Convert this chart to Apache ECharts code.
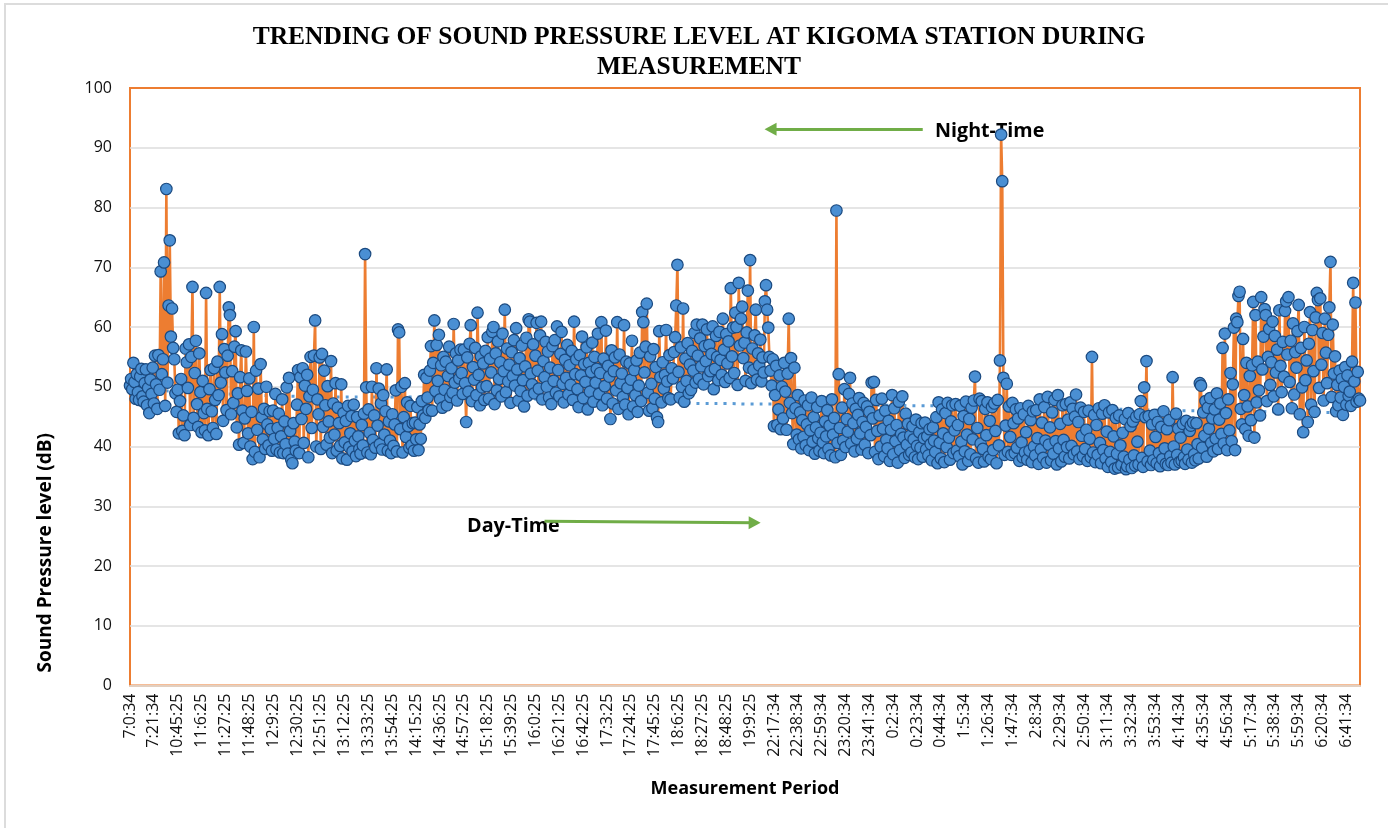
<!DOCTYPE html>
<html><head><meta charset="utf-8"><style>html,body{margin:0;padding:0;background:#fff}#c{width:1388px;height:828px}</style>
<script src="https://cdn.jsdelivr.net/npm/echarts@6/dist/echarts.min.js"></script></head><body><div id="c"></div><script>
const tickLabels=["7:0:34","7:21:34","10:45:25","11:6:25","11:27:25","11:48:25","12:9:25","12:30:25","12:51:25","13:12:25","13:33:25","13:54:25","14:15:25","14:36:25","14:57:25","15:18:25","15:39:25","16:0:25","16:21:25","16:42:25","17:3:25","17:24:25","17:45:25","18:6:25","18:27:25","18:48:25","19:9:25","22:17:34","22:38:34","22:59:34","23:20:34","23:41:34","0:2:34","0:23:34","0:44:34","1:5:34","1:26:34","1:47:34","2:8:34","2:29:34","2:50:34","3:11:34","3:32:34","3:53:34","4:14:34","4:35:34","4:56:34","5:17:34","5:38:34","5:59:34","6:20:34","6:41:34"];
const morning=[
50.2,51.3,49.6,54,50.8,48,52.1,49.1,47.8,51.7,53,48.4,47.5,50.6,52.9,46.9,49.8,45.6,51.2,48.8,53.2,
47.2,55.2,50.4,46.3,55.3,49.5,69.3,52.1,54.6,70.8,46.8,83.1,50.7,63.6,74.5,58.4,63.1,56.5,54.6,48.9,45.8,
49.5,42.2,47.6,51.3,42.6,45.2,41.9,56.4,54.1,49.8,57.1,43.6,55,66.7,44.8,52.3,57.7,47.1,43.3,55.6,49.1,
42.4,51,45.6,42.7,65.7,46.3,41.9,49.6,52.8,45.9,43.1,53.1,47.8,42.1,54.2,48.6,66.7,50.7,58.8,44.3,
56.3,52.4,46.1,55.2,63.3,62,45.4,52.6,47.3,56.7,59.3,43.2,48.9,40.3,51.6,56.1,46,40.6,44.7,55.9,49.3,
42.2,51.4,40,45.8,37.9,60,39.1,52.7,42.8,49.7,38.2,53.8,44.9,41.2,46.3,39.6,50,43.7,40.2,45.9,42.9,
39.3,46,41.3,48.8,39.5,43.1,45.5,39,41.7,47.9,38.9,44.2,40.4,49.9,38.8,51.5,42.6,37.8,37.2,43.9,40.8,
39.3,47,52.8,38.9,51.6,44.6,53.1,40.6,50.2,46.3,52,38.2,48.4,55,43.1,49.5,55.2,61.1,40,47.9,45.4];
const midday=[
54.9,39.6,55.5,43.3,52.7,46.9,40.3,50.1,44.2,41.5,54.3,38.9,47.2,42,50.6,39.3,46.5,43.9,40.1,50.4,38,
45.6,40.7,44.3,37.8,46.8,39.9,42.2,45.1,39.2,47,41,38.4,44.9,41.7,39.6,38.8,43.6,40.2,45.5,72.2,
49.9,39,46.2,42.3,38.7,50,41.1,45.2,39.8,53.1,43.5,49.7,40.4,47.2,39.5,48.6,42,45.9,52.9,39.3,44.2,
41,38.9,45.4,40.1,43.7,49.4,39.2,59.6,59.1,42.9,50,39,44.9,50.6,41.6,47.4,43.4,39.8,46.8,40.2,43.9,
39.3,44,41.2,46.6,39.4,43.7,41.3,47.6,45.2,52,44.8,51.5,48.2,46.1,52.7,56.8,46,54,61.1,49.3,57,
51,58.7,47.9,53.6,46.5,55,49.5,54.2,46.9,51.8,56.7,48.3,53.1,49,60.5,50.7,55.6,47.7,54.4,51.4,56.2,
52.3,48.8,56.2,50.6,44.1,54.9,49.2,57.2,60.3,47.6,53.3,51.2,56.5,48.6,62.4,52,46.9,55.1,49.9,53.9,47.8,
56,50.1,58.3,48,54.7,52.4,59.2,60,47.1,55.6,49.4,57.6,51.3,54.1,48.4,58.9,52.6,62.9,49.1,56.4,50.9,
53.7,47.3,55.8,51.8,57.8,50.2,59.8,52.9,47.7,54.8,49.3,56.9,51.1,46.7,53.4,58.2,48.5,61.3,60.9,52.2];
const afternoon=[
50.4,57.1,48.9,55.2,60.7,52.7,49.7,58.6,60.9,47.9,54.3,51.6,57.5,50,55.9,48.2,53.2,47.1,56.8,51,57.8,
49,60.1,52.8,48.4,55.5,59.2,50.5,47.4,54.5,51.5,57,48.7,53.6,50.3,56,47.8,60.9,52.1,54.6,49.6,46.6,
55.3,51.9,58.4,48.1,53.8,50.8,56.6,46.2,54,49.2,52.5,57.4,47.5,55,50.7,53,58.9,48.8,52.3,60.8,46.9,
54.7,50.1,59.4,48,53.5,51.7,44.6,56.1,47.2,52.6,54.9,49.4,60.8,46.3,55.4,50.6,52.2,48.3,60.3,47,54.2,
49.8,45.4,53.9,51.2,57.7,46.7,52.8,48.6,54.4,45.8,50.2,55.7,47.6,62.5,60.8,52.4,56.7,63.9,49,46,55.1,
50.5,46.4,56.3,48,53.3,44.9,44.1,59.3,51.6,47.4,54.1,49.7,52,59.5,50.9,48.1,55.3,47.9,53.1,51.4,
55.8,58.3,63.6,70.4,52.5,48.2,56.6,50,63.1,47.5,54.7,51,57.3,48.9,53.7,49.5,56,52.7,59,50.7,60.4,
55.2,51.3,58.1,53.4,60.4,50.4,56.8,54.3,59.6,51.8,57,52.6,55.5,60.1,49.6,53,58.5,55,51.1,59.2,54.5,
52,61.4,56.2,50.8,58.8,53.9,57.6,51.5,66.5,55.1,59.9,52.3,62.4,60,50.3,67.4,56.9,61.4,63.4,54.8,57.4,
51,59.1,66.1,53.2,71.2,50.6,56.4,52.8,58.6,62.9,51.2,55.6,53.6,57.9,50.9,54.9,52.4,64.3,67,62.9,59.9];
const evening=[
55,52.7,50.2,54.6,43.4,48.6,53.5,43.6,46.2,51.9,42.9,50,44.7,54,49.2,42.8,52.2,61.4,47.3,54.8,45.6,
40.4,53.2,46.4,42,48.6,41.2,45.7,39.7,44.4,41.6,47.7,40.2,43.7,46.9,39.4,42.7,48.2,40.8,44.9,38.8,43.2,
46.6,41.4,39.3,42.3,47.6,40.7,38.9,44.2,41.7,46.1,39.6,43.5,38.5,47.9,42,44.8,38.2,79.5,40.6,52.1,
43.1,38.6,46.5,41,49.6,39.9,44.6,42.5,48.8,51.5,40.5,47.2,43.9,39.2,46.3,41.3,45.3,48.1,42.2,39.5,44.1,
47.3,40.3,43.3,46.7,38.9,45.8,41.9,50.7,44.7,50.8,39.1,47.8,42.6,37.9,45.2,40,48,43,38.4,46,41.1,
39.7,44.3,37.6,42.8,48.6,38.7,46.4,40.9,43.6,37.3,47.5,39.4,42.1,48.4,41.5,38.1,45.5,40.3,43.8,38.6,41.8,
39,43.4,41.2,38.2,44.5,40.1,37.9,42.4,39.8,43.9,38.3,41.4,44,39.5,41.7,38.5,42.9,40.4,37.7,43.2,41,
39.1,44.9,37.2,47.4,40.6,38,46.2,42.2,37.4,45.6,39.9,47.3,41.5,37.8,44.2,46.9,38.9,42.7,47.1,39.3,43.6];
const night=[
38.4,46.8,40.8,37,45.1,39.2,47.5,42,37.6,44.6,38.7,46.5,41.2,47.7,51.7,38,43.1,37.3,48,40.5,
47.6,39.6,37.5,46.3,41.9,47.4,38.3,44.3,37.9,46.6,39.4,47.2,42.6,37.2,47.8,40.2,54.4,92.2,84.4,51.5,38.6,
43.5,50.5,39.1,46.7,41.6,38.6,47.3,43.9,38.9,46.2,39.8,44.7,37.6,46.4,40.7,38.2,45.4,39,42.4,37.8,46.8,
39.3,44.4,37.4,45.9,40,38.5,46.1,41.4,37.1,47.9,39.5,44,38.1,46.6,41,37.3,48.3,40.3,43.2,37.7,45.7,
38.8,47.8,40.9,37,48.6,39.7,43.8,37.5,46.9,41.1,38.3,47.1,39.9,44.5,38,47.4,40.1,46.3,38.7,45,48.7,
39.2,44.1,37.9,46.5,41.8,38.4,45.8,39.6,42.8,37.6,46,41.3,38.2,55,39,45.3,37.4,43.6,38.6,46.4,40.6,
37.2,45.5,39.4,46.9,38,42.5,36.6,45.7,39.1,37.4,46.1,41.7,36.3,44.8,38.8,36.5,45.2,40.2,36.9,42.3,38.3];
const dawn=[
44.6,36.2,36.7,45.6,37.8,43.4,36.4,44.2,38.5,36.8,45,40.8,37,45.4,47.6,38.1,36.6,49.9,44.9,54.3,
37.5,45.1,39.3,36.9,43.7,37.7,45.3,41.6,37.2,44.1,38.9,36.7,43.3,37.9,45.9,39.7,37.1,42.9,36.9,44.4,38.4,
37.3,51.6,40,37,45.5,38.6,43,37.4,41.5,37.6,43.8,38.2,37.1,44.3,39.5,37.8,42.6,43.5,37.3,44,38.7,
37.7,43.9,40.4,38,50.6,50.2,39.8,45.7,41.8,47.6,38.3,46.5,43,48.1,40.6,44.7,39.2,46.2,41.3,48.9,39.6,
44.5,47.2,42.1,56.5,40.5,58.9,45.6,39.4,47.9,42.7,52.3,40.9,50.4,59.9,39.4,61.4,60.8,65.2,65.9,46.3,43.7,
58,48.6,42.9,54,46.7,41.8,51.8,44.4,53.6,64.2,41.5,62,47.4,54.2,49.4,45.2,65,52.9,58.4,63,62,
47.6,55,59.7,50.3,54.1,60.9,48.4,58.5,52.4,56.2,46.2,62.8,53.5,49.1,57.5,51.7,62.7,64.3,55.4,65,
50.8,57.7,46.4,60.6,48.7,55.8,53.2,59.3,63.7,45.4,56.5,49.9,42.4,60,51.1,54.4,44.1,57.2,62.5,47,59.5,
52.6,45.8,61.6,65.7,64.5,49.8,64.8,53.7,59,47.7,61.4,55.7,50.6,58.7,63.3,70.9,48.3,60.4,52.2,55.1,45.9,
50.3,46.9,52.7,48.2,51.3,45.3,50,53.3,47,51.9,48.5,49.2,46.8,54.2,67.4,50.9,64.1,47.5,52.5,48,47.7];
const trendAtTicks=[50,49.5,49.2,49,48.8,48.6,48.5,48.4,48.3,48.3,48.3,48.3,48.3,48.3,48.2,48.1,48,47.9,47.8,47.7,47.6,47.5,47.4,47.3,47.2,47.2,47.1,47.1,47,47,46.9,46.9,46.9,46.8,46.8,46.8,46.7,46.7,46.6,46.5,46.4,46.3,46.2,46.1,46,46,45.9,45.9,45.8,45.8,45.7,45.7];
const nightArrow=[[698,93.08],[563.5,93.08]];
const dayArrow=[[365,27.47],[550,27.25]];
const spl=[].concat(morning,midday,afternoon,evening,night,dawn);
const perTick=21;
const categories=spl.map((v,i)=>i%perTick===0?(tickLabels[i/perTick]||''):'');
const trend=trendAtTicks.map((v,i)=>[i*perTick,v]);
const sans='"Open Sans",sans-serif';
const chart=echarts.init(document.getElementById('c'),null,{renderer:'canvas'});
chart.setOption({
animation:false,backgroundColor:'#fff',
title:{text:'TRENDING OF SOUND PRESSURE LEVEL AT KIGOMA STATION DURING\nMEASUREMENT',left:694,top:17,textAlign:'center',
 textStyle:{fontFamily:'"Liberation Serif",serif',fontWeight:'bold',fontSize:25.5,lineHeight:30,color:'#000'}},
grid:{left:130,top:88,width:1230,height:597.5,show:true,borderColor:'#ed7d31',borderWidth:2,backgroundColor:'transparent'},
xAxis:{type:'category',data:categories,boundaryGap:false,
 name:'Measurement Period',nameLocation:'middle',nameGap:94,nameTextStyle:{fontFamily:sans,fontWeight:'bold',fontSize:18,color:'#000'},
 axisLine:{lineStyle:{color:'#e2cfc0',width:2}},axisTick:{show:false},
 axisLabel:{interval:perTick-1,rotate:90,margin:8,fontFamily:sans,fontSize:16,color:'#111'},splitLine:{show:false}},
yAxis:{type:'value',min:0,max:100,interval:10,
 name:'Sound Pressure level (dB)',nameLocation:'middle',nameGap:75,nameTextStyle:{fontFamily:sans,fontWeight:'bold',fontSize:19,color:'#000',padding:[0,332,0,0]},
 axisLine:{show:false},axisTick:{show:false},
 axisLabel:{margin:18,fontFamily:sans,fontSize:16,color:'#111',padding:[2,0,0,0]},splitLine:{showMinLine:false,showMaxLine:false,lineStyle:{color:'#dcdcdc',width:1.5}}},
series:[
{name:'Trend',type:'line',data:trend,z:2,symbol:'none',smooth:true,silent:true,
 lineStyle:{color:'#5b9bd5',width:3,type:[3,6]},
 markLine:{silent:true,animation:false,symbol:['none','triangle'],symbolSize:[13,12],label:{show:false},lineStyle:{color:'#70ad47',width:3,type:'solid'},
  data:[[{coord:nightArrow[0]},{coord:nightArrow[1]}],[{coord:dayArrow[0]},{coord:dayArrow[1]}]]}},
{name:'Sound Pressure Level',type:'line',data:spl,z:3,showAllSymbol:true,sampling:'none',symbol:'circle',symbolSize:11.5,
 lineStyle:{color:'#ed7d31',width:2.6},
 itemStyle:{color:'#4a8fd3',borderColor:'#1b4a80',borderWidth:1.2}}
],
graphic:[
{type:'rect',shape:{x:5,y:4,width:1500,height:1000},style:{fill:'none',stroke:'#dcdcdc',lineWidth:2},silent:true,z:-1},
{type:'text',x:935,y:121,style:{text:'Night-Time',fontFamily:sans,fontWeight:'bold',fontSize:19.7,fill:'#000'},silent:true,z:1},
{type:'text',x:467,y:516,style:{text:'Day-Time',fontFamily:sans,fontWeight:'bold',fontSize:19.8,fill:'#000'},silent:true,z:1}
]});
</script></body></html>
